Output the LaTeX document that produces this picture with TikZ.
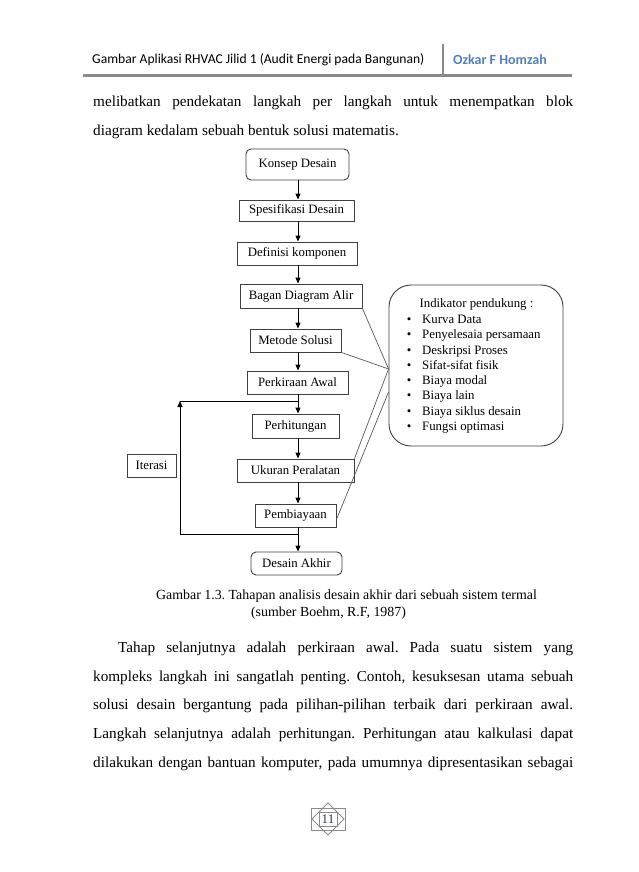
\documentclass[tikz,border=0pt]{standalone}
\usepackage{fontspec}
\setmainfont{Liberation Serif}
\newfontfamily\kepala{Carlito}
\usetikzlibrary{arrows.meta}
\definecolor{birukepala}{RGB}{79,129,189}
\definecolor{abugaris}{RGB}{138,138,138}
\definecolor{abukotak}{RGB}{64,64,64}
\definecolor{nomorhal}{RGB}{40,55,90}
\frenchspacing

\tikzset{
 blok/.style={draw=abukotak,line width=0.9pt,inner sep=0pt,font=\fontsize{12.8}{14}\selectfont},
 blokbulat/.style={blok,rounded corners=5pt},
 panah/.style={-{Triangle[length=6pt,width=5pt]},line width=0.9pt},
 garis/.style={draw=black!65,line width=0.7pt},
 isi/.style={font=\fontsize{15.2}{28.7}\selectfont,text width=480pt,align=justify,inner sep=0pt,anchor=base west},
 tulis/.style={font=\fontsize{12.8}{14}\selectfont,inner sep=0pt},
}

\begin{document}
\begin{tikzpicture}[x=1pt,y=-1pt]
\fill[white] (0,0) rectangle (638,872);
\useasboundingbox (0,0) rectangle (638,872);

% kepala halaman
\node[anchor=west,inner sep=0pt,font=\kepala\fontsize{13.6}{15}\selectfont] (judulbuku) at (92,60) {Gambar Aplikasi RHVAC Jilid 1 (Audit Energi pada Bangunan)};
\node[anchor=west,inner sep=0pt,font=\kepala\bfseries\fontsize{14}{15}\selectfont,text=birukepala] (penulis) at (453,60) {Ozkar F Homzah};
\draw[abugaris,line width=2pt] (443,44) -- (443,75);
\draw[abugaris,line width=2.7pt] (83,75.5) -- (572,75.5);

% paragraf atas
\node[isi] (paraA) at (93,106.5) {melibatkan pendekatan langkah per langkah untuk menempatkan blok\linebreak diagram kedalam sebuah bentuk solusi matematis.};

% diagram alir
\coordinate (sumbu) at (298,0);
\node[blokbulat,minimum width=103pt,minimum height=31pt] (konsep) at (297.5,164.5) {Konsep Desain};
\node[blok,minimum width=115pt,minimum height=21pt] (spes) at (296.5,210.5) {Spesifikasi Desain};
\node[blok,minimum width=120pt,minimum height=23pt] (defin) at (297,253.5) {Definisi komponen};
\node[blok,minimum width=122pt,minimum height=24pt] (bagan) at (301,296) {Bagan Diagram Alir};
\node[blok,minimum width=91pt,minimum height=23pt] (metode) at (295.5,340.5) {Metode Solusi};
\node[blok,minimum width=101pt,minimum height=23pt] (perkiraan) at (297.5,382.5) {Perkiraan Awal};
\node[blok,minimum width=87pt,minimum height=24pt] (hitung) at (295.5,426) {Perhitungan};
\node[blok,minimum width=117pt,minimum height=23pt] (ukuran) at (295.5,470.5) {Ukuran Peralatan};
\node[blok,minimum width=81pt,minimum height=23pt] (biaya) at (295.5,515.5) {Pembiayaan};
\node[blokbulat,minimum width=91pt,minimum height=23pt] (akhir) at (296.5,563.5) {Desain Akhir};
\node[blok,minimum width=49pt,minimum height=23pt] (iterasi) at (151.5,465.5) {Iterasi};

\foreach \a/\b in {konsep/spes,spes/defin,defin/bagan,bagan/metode,metode/perkiraan,perkiraan/hitung,hitung/ukuran,ukuran/biaya,biaya/akhir}
  \draw[panah] (\a.south -| sumbu) -- (\b.north -| sumbu);

% putaran iterasi
\coordinate (iterB) at (180,534);
\coordinate (iterT) at (180,401);
\draw[line width=0.9pt] (sumbu |- iterB) -- (iterB);
\draw[panah] (iterB) -- (iterT);
\draw[line width=0.9pt] (iterT) -- (sumbu |- iterT);

% indikator pendukung
\node[draw=abukotak,line width=0.9pt,rounded corners=22pt,minimum width=174pt,minimum height=161pt] (indik) at (476,365.5) {};
\node[tulis] (indikjudul) at (476.5,304) {Indikator pendukung :};
\foreach \teks [count=\i from 0] in {Kurva Data,Penyelesaia persamaan,Deskripsi Proses,Sifat-sifat fisik,Biaya modal,Biaya lain,Biaya siklus desain,Fungsi optimasi} {
  \node[tulis,anchor=base] (titik\i) at (409,{323.5+15.25*\i}) {\textbullet};
  \node[tulis,anchor=base west] (butir\i) at (422,{323.5+15.25*\i}) {\teks};
}
\coordinate (hubA) at ([yshift=-3.5pt]indik.west);
\coordinate (hubB) at ([yshift=-26.5pt]indik.west);
\draw[garis] (bagan.south east) -- (hubA);
\draw[garis] (metode.south east) -- (hubA);
\draw[garis] (ukuran.north east) -- (hubA);
\draw[garis] ([yshift=-4pt]biaya.east) -- (hubB);

% keterangan gambar
\node[anchor=base,inner sep=0pt,font=\fontsize{13.9}{16}\selectfont] (kapsiA) at (346.5,599.5) {Gambar 1.3. Tahapan analisis desain akhir dari sebuah sistem termal};
\node[anchor=base,inner sep=0pt,font=\fontsize{13.9}{16}\selectfont] (kapsiB) at (328.5,616.5) {(sumber Boehm, R.F, 1987)};

% paragraf bawah
\node[isi] (paraB) at (93,652.5) {\parfillskip=0pt\hspace*{25pt}Tahap selanjutnya adalah perkiraan awal. Pada suatu sistem yang\linebreak kompleks langkah ini sangatlah penting. Contoh, kesuksesan utama sebuah\linebreak solusi desain bergantung pada pilihan-pilihan terbaik dari perkiraan awal.\linebreak Langkah selanjutnya adalah perhitungan. Perhitungan atau kalkulasi dapat\linebreak dilakukan dengan bantuan komputer, pada umumnya dipresentasikan sebagai\par};

% nomor halaman
\draw[abugaris,line width=0.8pt] (328,803) -- (344,819) -- (328,835) -- (312,819) -- cycle;
\draw[abugaris,line width=0.8pt] (311,808) rectangle (345,830);
\draw[abugaris,line width=0.8pt] (319,812) rectangle (337,826);
\node[inner sep=0pt,font=\fontsize{13}{14}\selectfont,text=nomorhal] (nomor) at (328,819) {11};
\end{tikzpicture}
\end{document}
